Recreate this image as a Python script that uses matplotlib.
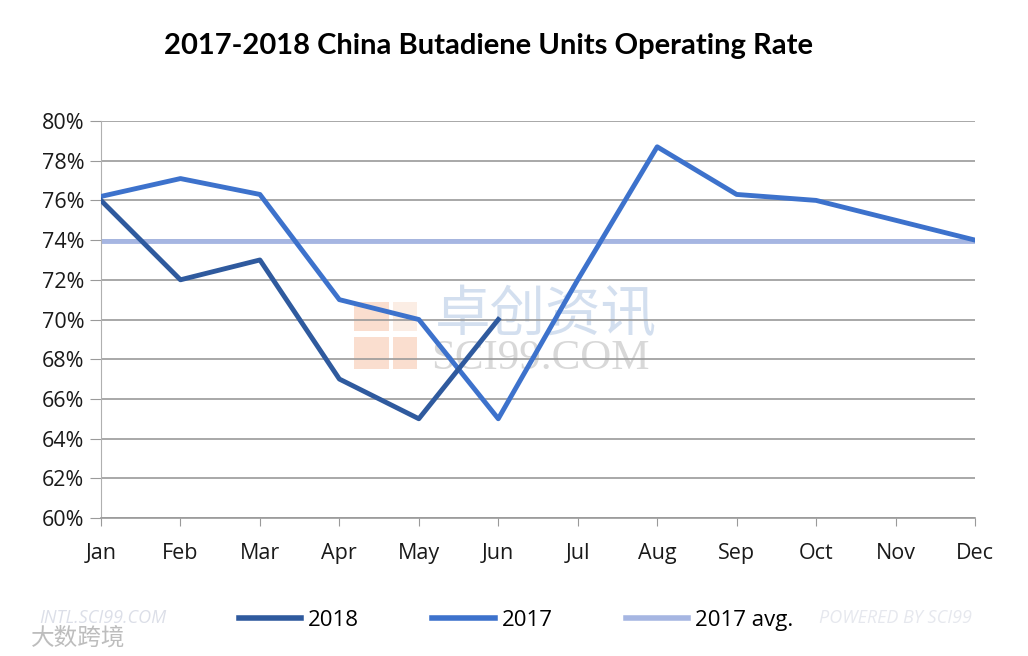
import matplotlib
matplotlib.use("Agg")
import matplotlib.pyplot as plt
from matplotlib.patches import Rectangle

# data
months = ["Jan", "Feb", "Mar", "Apr", "May", "Jun",
          "Jul", "Aug", "Sep", "Oct", "Nov", "Dec"]
rate_2018 = [76.0, 72.0, 73.0, 67.0, 65.0, 70.0]
rate_2017 = [76.2, 77.1, 76.3, 71.0, 70.0, 65.0,
             72.0, 78.7, 76.3, 76.0, 75.0, 74.0]
avg_2017 = [73.95] * 12
y_ticks = [60, 62, 64, 66, 68, 70, 72, 74, 76, 78, 80]

C_2018 = "#2f5a9e"
C_2017 = "#3d72cc"
C_AVG = "#a6b6e2"

plt.rcParams['font.family'] = ['Open Sans', 'DejaVu Sans']

fig = plt.figure(figsize=(10.28, 6.56), dpi=100)
ax = fig.add_axes([101 / 1028, 1 - 518 / 656, 874 / 1028, 397 / 656])

x = list(range(len(months)))

# watermark in the middle
wm = dict(color="#f7c9b0", alpha=0.6, lw=0, zorder=1)
ax.add_patch(Rectangle((3.18, 67.5), 0.44, 1.6, **wm))
ax.add_patch(Rectangle((3.18, 69.4), 0.44, 1.5, **wm))
ax.add_patch(Rectangle((3.67, 67.5), 0.31, 1.6, **wm))
ax.add_patch(Rectangle((3.67, 69.4), 0.31, 1.5, color="#f9dccb", alpha=0.5, lw=0, zorder=1))
ax.text(4.2, 70.25, "卓创资讯", fontsize=40, color="#c9d8ec", alpha=0.8,
        family=['Noto Sans CJK SC'], va='center', ha='left', zorder=1)
ax.text(4.15, 68.0, "SCI99.COM", fontsize=31, color="#d8d8d8",
        family=['Liberation Serif'], va='center', ha='left', zorder=1)

ax.plot(x[:len(rate_2018)], rate_2018, color=C_2018, lw=3.5, label="2018", zorder=4)
ax.plot(x, rate_2017, color=C_2017, lw=3.5, label="2017", zorder=3)
ax.plot(x, avg_2017, color=C_AVG, lw=3.5, label="2017 avg.", zorder=2)

ax.set_xlim(0, 11)
ax.set_ylim(60, 80)
ax.set_yticks(y_ticks)
ax.set_yticklabels([f"{v}%" for v in y_ticks])
ax.set_xticks(x)
ax.set_xticklabels(months)

ax.grid(axis='y', color="#9a9a9a", lw=1.2, zorder=0)
for s in ["top", "right"]:
    ax.spines[s].set_visible(False)
ax.spines["left"].set_color("#b0b0b0")
ax.spines["bottom"].set_color("#9a9a9a")
ax.spines["bottom"].set_linewidth(1.2)
ax.tick_params(axis='y', length=8, color="#9a9a9a", labelsize=15.5, pad=4,
               labelcolor="#1a1a1a")
ax.tick_params(axis='x', length=6, direction='out', color="#9a9a9a",
               labelsize=15.5, pad=12, labelcolor="#1a1a1a")

fig.text(0.475, 0.93, "2017-2018 China Butadiene Units Operating Rate",
         fontsize=21, fontweight='bold', ha='center', va='center',
         family=['Liberation Sans Narrow', 'Lato'])

leg = fig.legend(loc='center', bbox_to_anchor=(0.502, 0.054), ncol=3, frameon=False,
                 fontsize=16, handlelength=2.8, columnspacing=3.3, handletextpad=0.3)
for h in leg.get_lines():
    h.set_linewidth(4)

# corner watermarks
fig.text(0.038, 0.058, "INTL.SCI99.COM", fontsize=13, style='italic',
         color="#dcdfe8", va='center')
fig.text(0.797, 0.058, "POWERED BY SCI99", fontsize=13, style='italic',
         color="#e6e8ee", va='center')
fig.text(0.03, 0.027, "大数跨境", fontsize=17, color="#bdbdbd", va='center',
         family=['Noto Sans CJK SC'])

fig.savefig("out.png", dpi=100)
